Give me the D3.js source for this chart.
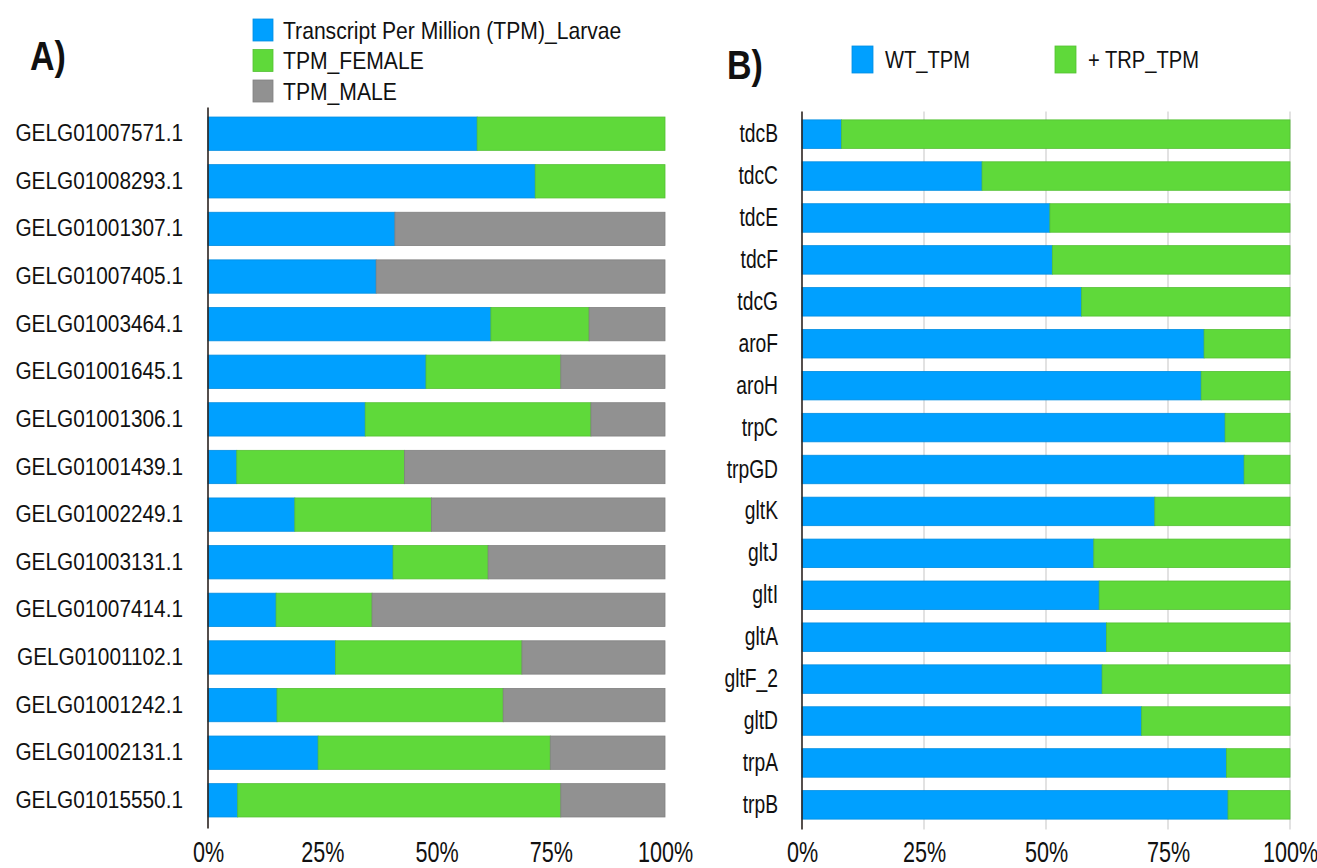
<!DOCTYPE html>
<html>
<head>
<meta charset="utf-8">
<script src="https://cdn.jsdelivr.net/npm/d3@7"></script>
<style>
  html, body { margin: 0; padding: 0; background: #fff; }
  svg { display: block; font-family: "Liberation Sans", Arial, sans-serif; }
</style>
</head>
<body>
<svg id="chart" width="1317" height="868"></svg>
<script>
// Panel A: relative TPM share per transcript (larvae / female / male), percent
const transcripts = [
  "GELG01007571.1", "GELG01008293.1", "GELG01001307.1", "GELG01007405.1",
  "GELG01003464.1", "GELG01001645.1", "GELG01001306.1", "GELG01001439.1",
  "GELG01002249.1", "GELG01003131.1", "GELG01007414.1", "GELG01001102.1",
  "GELG01001242.1", "GELG01002131.1", "GELG01015550.1"
];
const tpmLarvae = [58.9, 71.6, 40.9, 36.8, 61.9, 47.7, 34.4, 6.3, 19.0, 40.5, 14.9, 27.9, 15.1, 24.1, 6.5];
const tpmFemale = [41.1, 28.4, 0.0, 0.0, 21.5, 29.5, 49.4, 36.7, 29.9, 20.8, 21.0, 40.8, 49.5, 50.8, 70.7];
const tpmMale   = [0.0, 0.0, 59.1, 63.2, 16.6, 22.8, 16.2, 57.0, 51.1, 38.7, 64.1, 31.3, 35.4, 25.1, 22.8];
const seriesA = ["Transcript Per Million (TPM)_Larvae", "TPM_FEMALE", "TPM_MALE"];

// Panel B: wild type vs. tryptophan-supplemented TPM share per gene, percent
const genes = ["tdcB", "tdcC", "tdcE", "tdcF", "tdcG", "aroF", "aroH", "trpC", "trpGD",
               "gltK", "gltJ", "gltI", "gltA", "gltF_2", "gltD", "trpA", "trpB"];
const wtTpm  = [8.1, 36.9, 50.8, 51.3, 57.3, 82.4, 81.8, 86.7, 90.6, 72.3, 59.8, 60.9, 62.4, 61.5, 69.6, 87.0, 87.3];
const trpTpm = [91.9, 63.1, 49.2, 48.7, 42.7, 17.6, 18.2, 13.3, 9.4, 27.7, 40.2, 39.1, 37.6, 38.5, 30.4, 13.0, 12.7];
const seriesB = ["WT_TPM", "+ TRP_TPM"];

const percentTicks = [0, 25, 50, 75, 100];

const BLUE = "#00a0ff", GREEN = "#5fd93a", GREY = "#919191";
const colorsA = [BLUE, GREEN, GREY];
const colorsB = [BLUE, GREEN];
const strokeOf = c => d3.color(c).darker(0.35).formatHex();

const svg = d3.select("#chart");

// squeeze glyphs horizontally to get the narrow typeface look
function narrowText(sel, sx, dx) {
  sel.attr("x", 0).attr("transform", `translate(${dx || 0},0) scale(${sx},1)`);
}

function stackedPanel(cfg) {
  const g = svg.append("g");
  const x = d3.scaleLinear().domain([0, 100]).range([cfg.x0, cfg.x1]);
  const y = d3.scaleBand().domain(cfg.cats).range([cfg.y0, cfg.y1])
    .paddingInner(cfg.padIn).paddingOuter(cfg.padOut);

  if (cfg.grid) {
    g.append("g").selectAll("line").data(percentTicks.slice(1)).join("line")
      .attr("x1", d => x(d)).attr("x2", d => x(d))
      .attr("y1", cfg.y0).attr("y2", cfg.y1 + 2)
      .attr("stroke", "#cfcfcf").attr("stroke-width", 1.2);
  }

  const rows = cfg.cats.map((c, i) => {
    const r = { cat: c };
    cfg.keys.forEach((k, j) => r[k] = cfg.values[j][i]);
    return r;
  });
  const stacked = d3.stack().keys(cfg.keys)(rows);

  g.append("g").selectAll("g").data(stacked).join("g")
    .attr("fill", (d, i) => cfg.colors[i])
    .attr("stroke", (d, i) => strokeOf(cfg.colors[i]))
    .attr("stroke-width", 0.8)
    .selectAll("rect").data(d => d.filter(s => s[1] - s[0] > 0)).join("rect")
      .attr("x", d => x(d[0]))
      .attr("width", d => x(d[1]) - x(d[0]))
      .attr("y", d => y(d.data.cat))
      .attr("height", y.bandwidth());

  // category axis
  const ya = g.append("g").attr("transform", `translate(${cfg.x0},0)`)
    .call(d3.axisLeft(y).tickSize(0).tickPadding(0));
  ya.select(".domain").remove();
  ya.selectAll("text")
    .attr("font-size", cfg.catFont).attr("fill", "#111")
    .attr("font-family", "Liberation Sans, Arial, sans-serif")
    .call(narrowText, cfg.catSx, -cfg.catGap);
  g.append("line")
    .attr("x1", cfg.x0).attr("x2", cfg.x0)
    .attr("y1", cfg.y0).attr("y2", cfg.y1 + 2)
    .attr("stroke", "#2b2320").attr("stroke-width", 1.6);

  // percent axis
  const xa = g.append("g").attr("transform", `translate(0,${cfg.y1})`)
    .call(d3.axisBottom(x).tickValues(percentTicks).tickFormat(d => d + "%").tickSize(0));
  xa.select(".domain").remove();
  xa.selectAll("text")
    .attr("font-size", cfg.tickFont).attr("fill", "#111")
    .attr("font-family", "Liberation Sans, Arial, sans-serif")
    .attr("y", cfg.tickY)
    .call(narrowText, cfg.tickSx, 0);
  return g;
}

stackedPanel({
  cats: transcripts, keys: seriesA, values: [tpmLarvae, tpmFemale, tpmMale], colors: colorsA,
  x0: 208, x1: 665, y0: 107.5, y1: 826.5, padIn: 0.3, padOut: 0.2, grid: false,
  catFont: 23.5, catSx: 0.885, catGap: 25, tickFont: 30, tickSx: 0.72, tickY: 14
});

stackedPanel({
  cats: genes, keys: seriesB, values: [wtTpm, trpTpm], colors: colorsB,
  x0: 802, x1: 1290, y0: 111.5, y1: 827.5, padIn: 0.32, padOut: 0.2, grid: true,
  catFont: 25, catSx: 0.77, catGap: 24, tickFont: 30, tickSx: 0.72, tickY: 13
});

// panel letters
svg.append("text").text("A)").attr("transform", "translate(30,70) scale(0.85,1)")
  .attr("font-size", 40).attr("font-weight", "bold").attr("fill", "#111");
svg.append("text").text("B)").attr("transform", "translate(727,79) scale(0.85,1)")
  .attr("font-size", 40).attr("font-weight", "bold").attr("fill", "#111");

// legend A (stacked vertically)
const legA = svg.append("g");
seriesA.forEach((name, i) => {
  const cy = 30 + i * 30.5;
  legA.append("rect").attr("x", 253).attr("y", cy - 11).attr("width", 20).attr("height", 22)
    .attr("fill", colorsA[i]).attr("stroke", strokeOf(colorsA[i])).attr("stroke-width", 0.8);
  legA.append("text").text(name)
    .attr("transform", `translate(283,${cy + 8.5}) scale(0.88,1)`)
    .attr("font-size", 24).attr("fill", "#111");
});

// legend B (single row)
const legB = svg.append("g");
const legBx = [852, 1055];
seriesB.forEach((name, i) => {
  legB.append("rect").attr("x", legBx[i]).attr("y", 46).attr("width", 21).attr("height", 27)
    .attr("fill", colorsB[i]).attr("stroke", strokeOf(colorsB[i])).attr("stroke-width", 0.8);
  legB.append("text").text(name)
    .attr("transform", `translate(${legBx[i] + 33},${68}) scale(0.84,1)`)
    .attr("font-size", 24).attr("fill", "#111");
});
</script>
</body>
</html>
